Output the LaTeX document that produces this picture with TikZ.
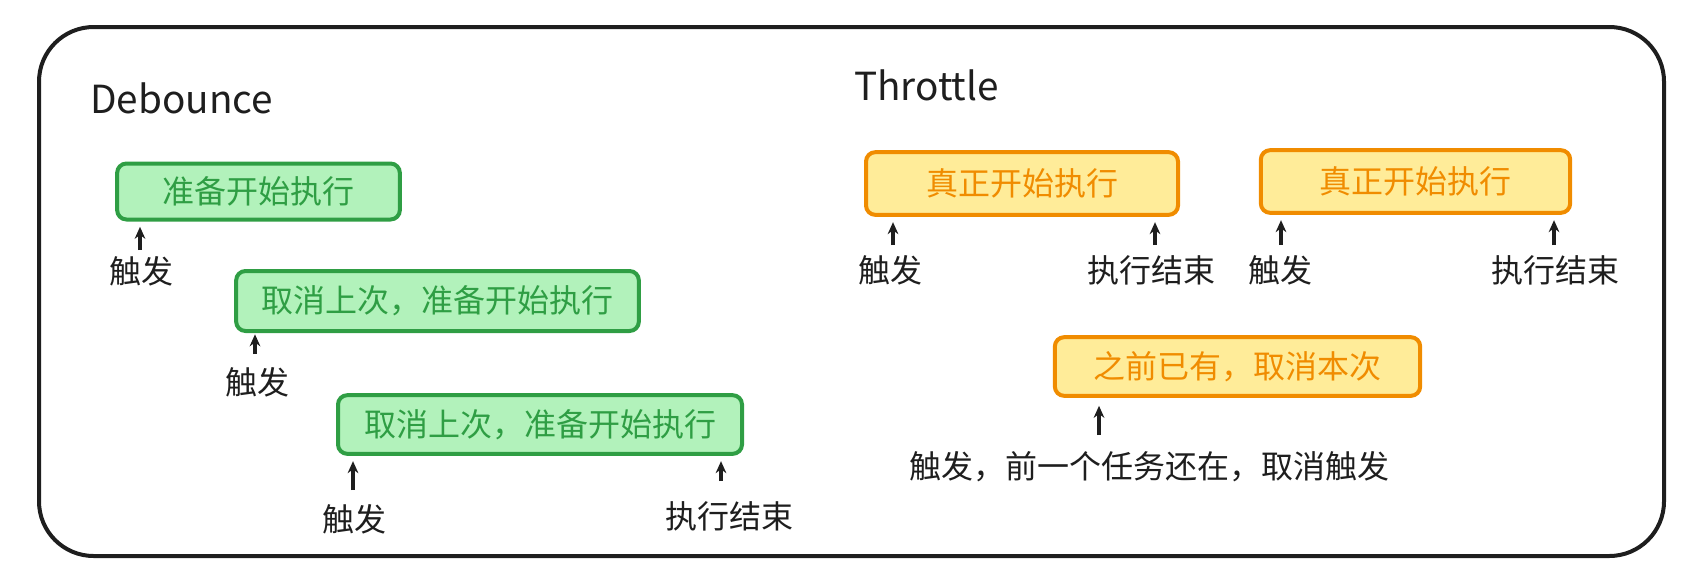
\documentclass[tikz,border=0pt]{standalone}
\usepackage{fontspec}
\setmainfont{Noto Sans CJK SC}
\usetikzlibrary{arrows.meta}
\definecolor{gstroke}{HTML}{2F9E44}
\definecolor{gfill}{HTML}{B2F2BB}
\definecolor{ostroke}{HTML}{F08C00}
\definecolor{ofill}{HTML}{FFEC99}
\definecolor{ink}{HTML}{1E1E1E}
\begin{document}
\begin{tikzpicture}[x=0.75pt,y=-0.75pt,
  boxbase/.style={line width=3pt, rounded corners=7pt, inner sep=0pt, font=\fontsize{24}{28}\selectfont},
  gbox/.style={boxbase, draw=gstroke, fill=gfill, text=gstroke},
  obox/.style={boxbase, draw=ostroke, fill=ofill, text=ostroke},
  lbl/.style={text=ink, inner sep=0pt, font=\fontsize{24}{28}\selectfont},
  titletext/.style={text=ink, inner sep=0pt, anchor=base west, font=\fontsize{29}{34}\selectfont},
  arr/.style={draw=ink, line width=2.4pt, -{Stealth[length=9pt,width=8pt]}, shorten >=4pt},
  frameline/.style={draw=ink, line width=3pt, rounded corners=41pt}]
\useasboundingbox (0,0) rectangle (1708,586);
\draw[frameline] (39,27) rectangle (1664,556);

% Debounce
\node[titletext] (tdeb) at (90,113) {Debounce};
\node[gbox, minimum width=212pt, minimum height=42pt] (g1) at (258.5,191.5) {准备开始执行};
\node[gbox, minimum width=302pt, minimum height=45pt] (g2) at (437.5,301) {取消上次，准备开始执行};
\node[gbox, minimum width=303pt, minimum height=44pt] (g3) at (540,424.5) {取消上次，准备开始执行};

\node[lbl] (t1) at (141,271) {触发};
\node[lbl] (t2) at (257,382) {触发};
\node[lbl] (t3) at (354,519) {触发};
\node[lbl] (t4) at (729,516) {执行结束};

\coordinate (c1) at (140,250);
\coordinate (c2) at (255,354);
\coordinate (c3) at (353,490);
\coordinate (c4) at (721,481);
\draw[arr] (c1) -- (c1 |- g1.south);
\draw[arr, shorten >=1pt] (c2) -- (c2 |- g2.south);
\draw[arr] (c3) -- (c3 |- g3.south);
\draw[arr] (c4) -- (c4 |- g3.south);

% Throttle
\node[titletext] (tthr) at (854,100) {Throttle};
\node[obox, minimum width=234pt, minimum height=47pt] (o1) at (1022,183.5) {真正开始执行};
\node[obox, minimum width=232pt, minimum height=47pt] (o2) at (1415.5,181.5) {真正开始执行};
\node[obox, minimum width=274pt, minimum height=44pt] (o3) at (1237.5,366.5) {之前已有，取消本次};

\node[lbl] (t5) at (890,270) {触发};
\node[lbl] (t6) at (1151,270) {执行结束};
\node[lbl] (t7) at (1280,270) {触发};
\node[lbl] (t8) at (1555,270) {执行结束};
\node[lbl] (t9) at (1149,467) {触发，前一个任务还在，取消触发};

\coordinate (c5) at (893,245);
\coordinate (c6) at (1155,245);
\coordinate (c7) at (1281,245);
\coordinate (c8) at (1554,245);
\coordinate (c9) at (1099,435);
\draw[arr] (c5) -- (c5 |- o1.south);
\draw[arr] (c6) -- (c6 |- o1.south);
\draw[arr] (c7) -- (c7 |- o2.south);
\draw[arr] (c8) -- (c8 |- o2.south);
\draw[arr, shorten >=6pt] (c9) -- (c9 |- o3.south);
\end{tikzpicture}
\end{document}
